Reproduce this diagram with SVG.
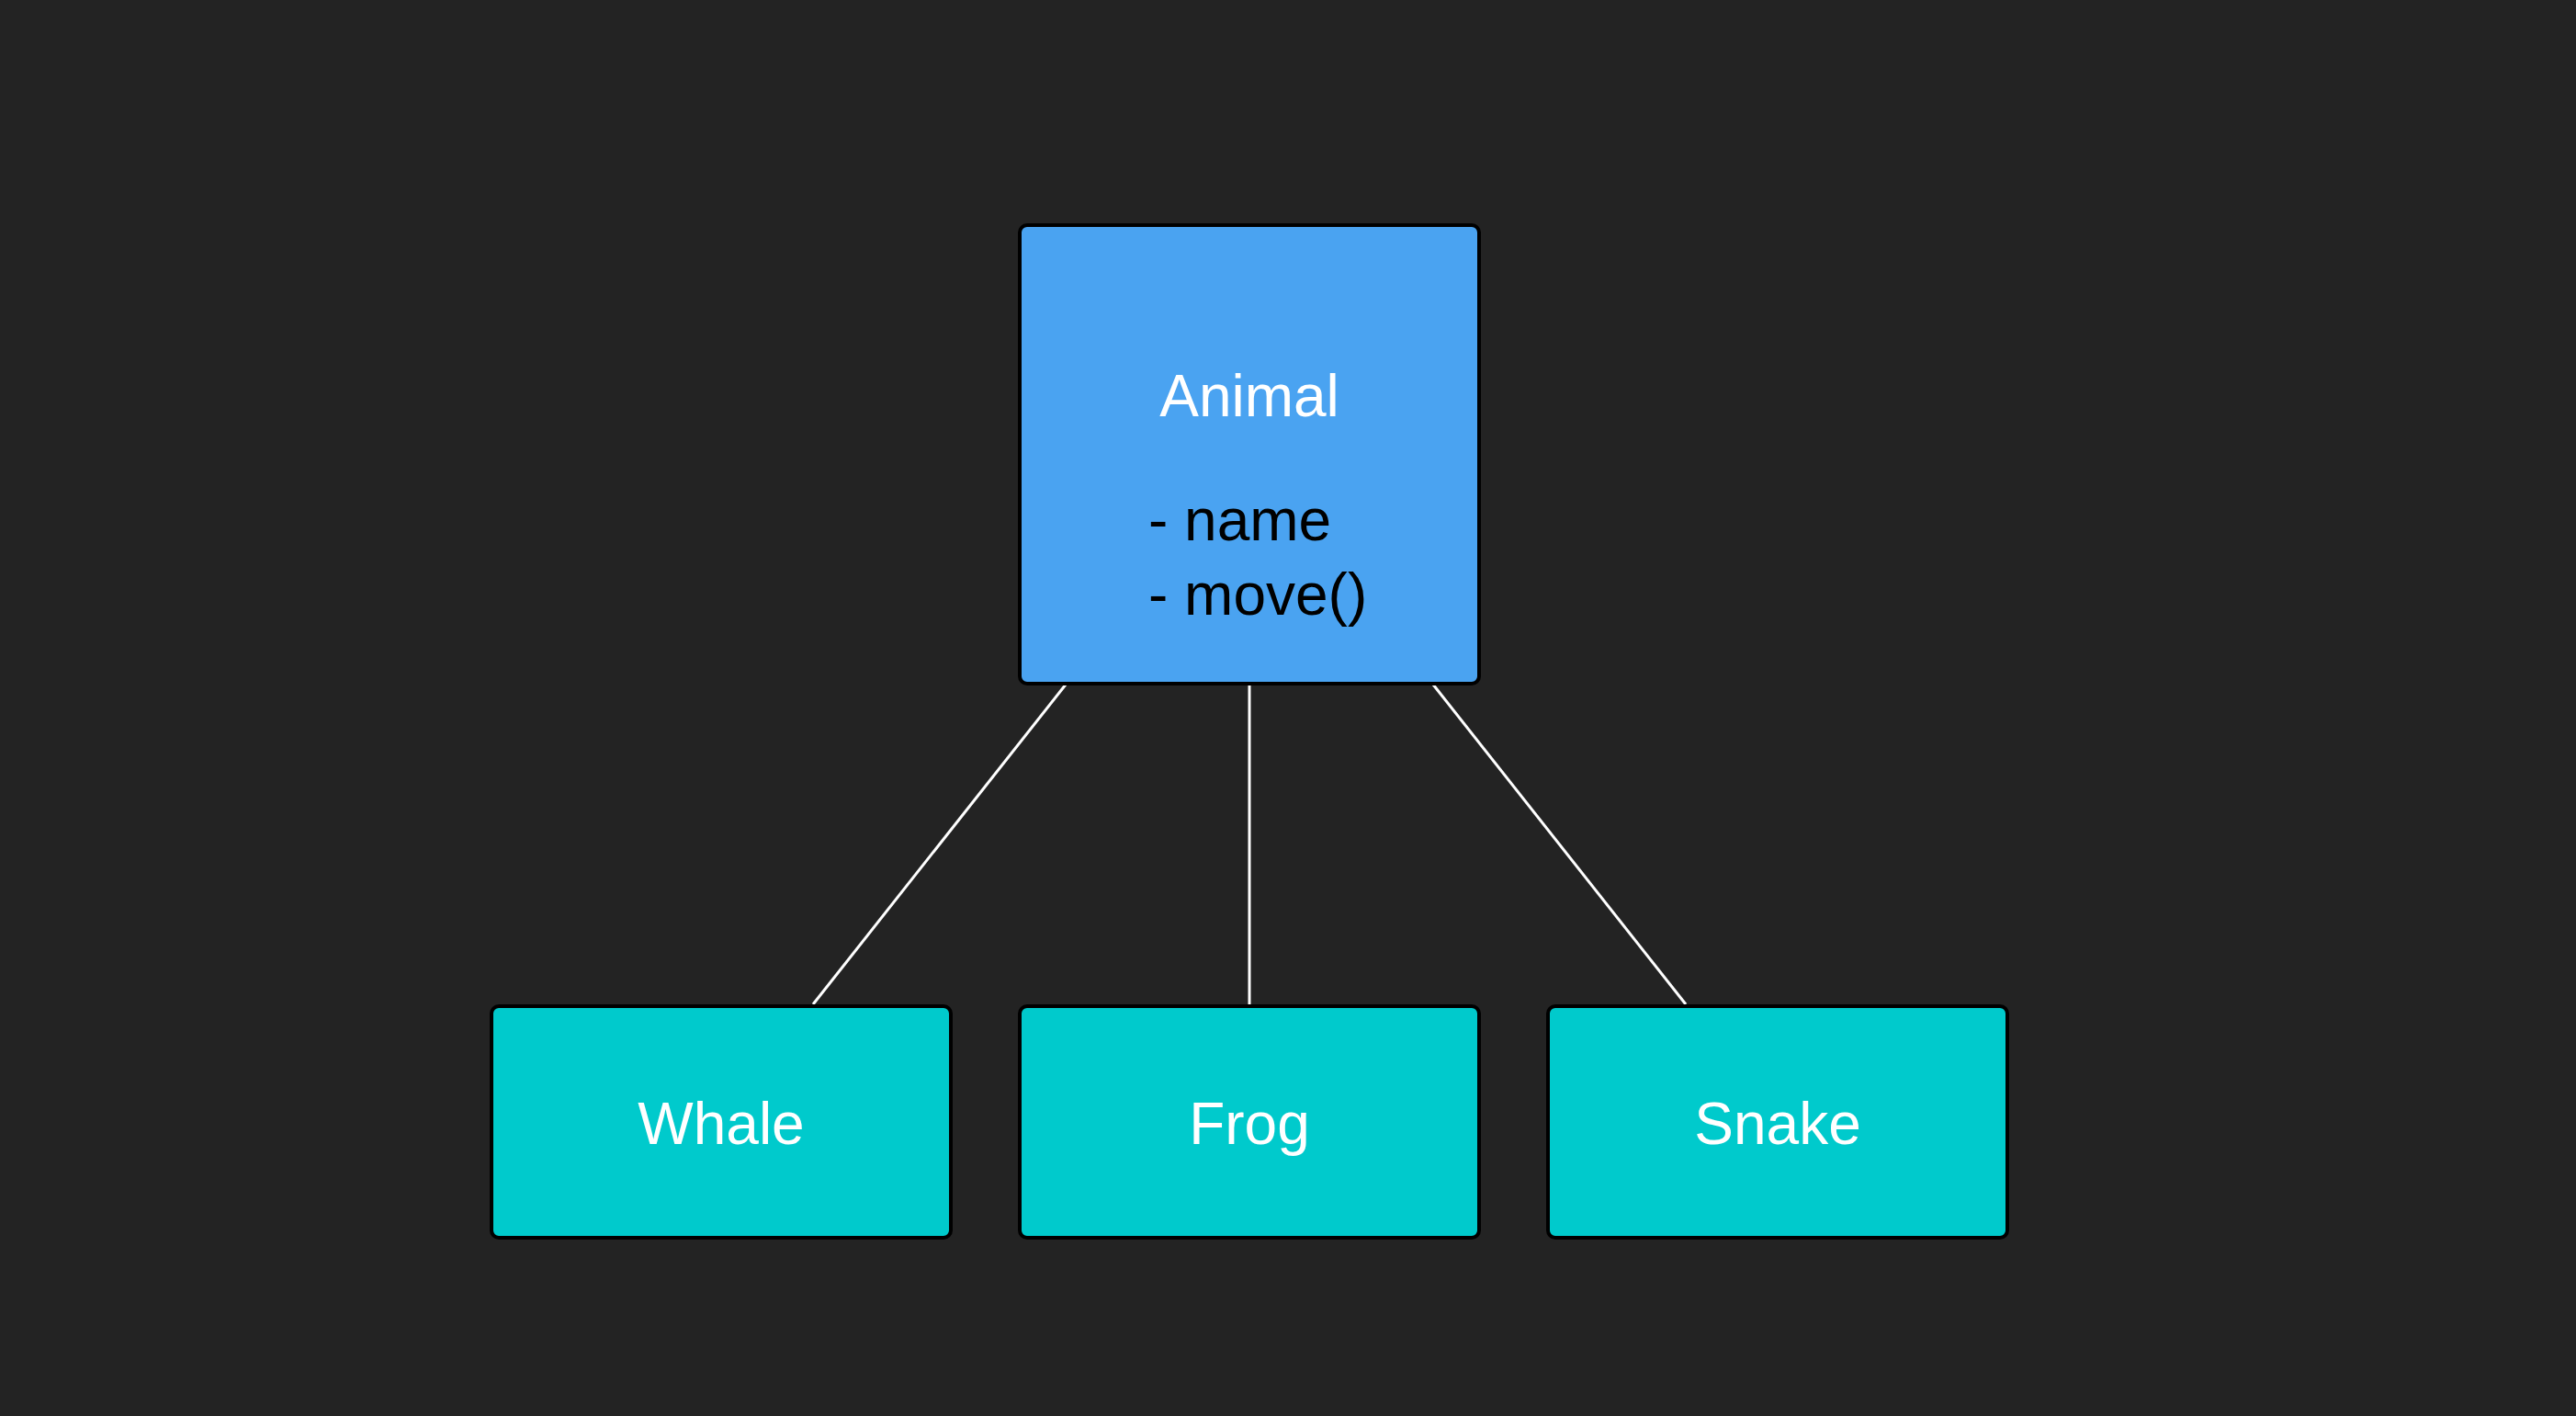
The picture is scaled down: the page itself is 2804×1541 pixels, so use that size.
<svg xmlns="http://www.w3.org/2000/svg" width="2804" height="1541" viewBox="0 0 2804 1541">
  <style>
    .box { stroke: #000000; stroke-width: 4; }
    .parent { fill: #4AA3F1; }
    .child { fill: #00CACC; }
    .label { font-family: "Liberation Sans", Arial, Helvetica, sans-serif; font-size: 64px; fill: #FFFFFF; text-anchor: middle; }
    .member { font-family: "Liberation Sans", Arial, Helvetica, sans-serif; font-size: 64px; fill: #000000; }
    .edge { stroke: #FFFFFF; stroke-width: 3; fill: none; }
  </style>
  <rect x="0" y="0" width="2804" height="1541" fill="#232323"/>
  <g id="connectors">
    <line class="edge" x1="1160" y1="745" x2="885" y2="1093"/>
    <line class="edge" x1="1360" y1="745" x2="1360" y2="1093"/>
    <line class="edge" x1="1560" y1="745" x2="1835" y2="1093"/>
  </g>
  <g id="animal">
    <rect class="box parent" x="1110" y="245" width="500" height="499" rx="8" ry="8"/>
    <text class="label" x="1360" y="453">Animal</text>
    <text class="member" x="1250" y="588">- name</text>
    <text class="member" x="1250" y="669">- move()</text>
  </g>
  <g id="whale">
    <rect class="box child" x="535" y="1095" width="500" height="252" rx="8" ry="8"/>
    <text class="label" x="785" y="1245">Whale</text>
  </g>
  <g id="frog">
    <rect class="box child" x="1110" y="1095" width="500" height="252" rx="8" ry="8"/>
    <text class="label" x="1360" y="1245">Frog</text>
  </g>
  <g id="snake">
    <rect class="box child" x="1685" y="1095" width="500" height="252" rx="8" ry="8"/>
    <text class="label" x="1935" y="1245">Snake</text>
  </g>
</svg>
